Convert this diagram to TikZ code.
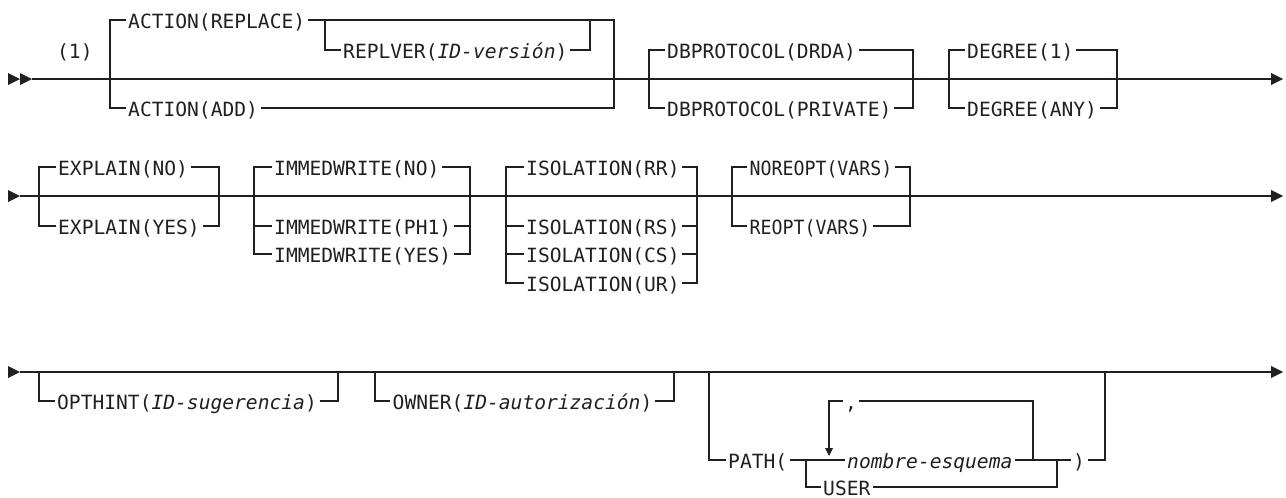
\documentclass[tikz,border=0pt]{standalone}
\usepackage{fontspec}
\usepackage{graphicx}
\newfontfamily\kwfont{DejaVu Sans Mono}
\definecolor{ink}{RGB}{35,31,32}
\tikzset{
  rr/.style={line width=1.2pt, draw=ink},
  kw/.style={anchor=west, inner xsep=2.5pt, inner ysep=0pt, text height=18pt, text depth=2pt,
             font=\kwfont\fontsize{19.6pt}{22pt}\selectfont, text=ink},
  tipfill/.style={fill=ink, draw=none},
}
\begin{document}
\begin{tikzpicture}[x=1pt,y=-1pt]
\useasboundingbox (0,0) rectangle (1286,498);
\fill[white] (0,0) rectangle (1286,498);

% ================= Row 1 =================
\coordinate (r1s) at (32,79);
\coordinate (r1e) at (1271,79);
\draw[rr] (r1s) -- (r1e);
\fill[tipfill] (8,73) -- (20,79) -- (8,85) -- cycle;
\fill[tipfill] (20,73) -- (32,79) -- (20,85) -- cycle;
\fill[tipfill] (1271,73) -- (1283,79) -- (1271,85) -- cycle;

\node[kw] (note1) at (54.5,50) {(1)};

% ACTION group
\coordinate (aL) at (110,79);
\coordinate (aR) at (614,79);
\node[kw] (arep) at (125.5,20) {ACTION(REPLACE)};
\node[kw] (aadd) at (125.5,108) {ACTION(ADD)};
\node[kw] (arv) at (340.5,50) {REPLVER(\textit{ID-versión})};
\draw[rr] (arep.west) -- (arep.west -| aL) -- (aadd.west -| aL) -- (aadd.west);
\draw[rr] (arep.east) -- (arep.east -| aR) -- (aadd.east -| aR) -- (aadd.east);
\coordinate (rvL) at (325,20);
\coordinate (rvR) at (590,20);
\draw[rr] (rvL) |- (arv.west);
\draw[rr] (arv.east) -| (rvR);

% DBPROTOCOL group
\coordinate (dL) at (649,79);
\coordinate (dR) at (913,79);
\node[kw] (dbd) at (664.5,50) {DBPROTOCOL(DRDA)};
\node[kw] (dbp) at (664.5,108) {DBPROTOCOL(PRIVATE)};
\draw[rr] (dbd.west) -- (dbd.west -| dL) -- (dbp.west -| dL) -- (dbp.west);
\draw[rr] (dbd.east) -- (dbd.east -| dR) -- (dbp.east -| dR) -- (dbp.east);

% DEGREE group
\coordinate (gL) at (949,79);
\coordinate (gR) at (1117,79);
\node[kw] (dg1) at (964.5,50) {DEGREE(1)};
\node[kw] (dga) at (964.5,108) {DEGREE(ANY)};
\draw[rr] (dg1.west) -- (dg1.west -| gL) -- (dga.west -| gL) -- (dga.west);
\draw[rr] (dg1.east) -- (dg1.east -| gR) -- (dga.east -| gR) -- (dga.east);

% ================= Row 2 =================
\coordinate (r2s) at (20,196);
\coordinate (r2e) at (1271,196);
\draw[rr] (r2s) -- (r2e);
\fill[tipfill] (8,190) -- (20,196) -- (8,202) -- cycle;
\fill[tipfill] (1271,190) -- (1283,196) -- (1271,202) -- cycle;

% EXPLAIN
\coordinate (eL) at (39,196);
\coordinate (eR) at (219,196);
\node[kw] (exn) at (55.5,167) {EXPLAIN(NO)};
\node[kw] (exy) at (55.5,226) {EXPLAIN(YES)};
\draw[rr] (exn.west) -- (exn.west -| eL) -- (exy.west -| eL) -- (exy.west);
\draw[rr] (exn.east) -- (exn.east -| eR) -- (exy.east -| eR) -- (exy.east);

% IMMEDWRITE
\coordinate (iL) at (254,196);
\coordinate (iR) at (470,196);
\node[kw] (imn) at (271.5,167) {IMMEDWRITE(NO)};
\node[kw] (imp) at (271.5,226) {IMMEDWRITE(PH1)};
\node[kw] (imy) at (271.5,254) {IMMEDWRITE(YES)};
\draw[rr] (imn.west) -- (imn.west -| iL) -- (imy.west -| iL) -- (imy.west);
\draw[rr] (imn.east) -- (imn.east -| iR) -- (imy.east -| iR) -- (imy.east);
\draw[rr] (imp.west -| iL) -- (imp.west);
\draw[rr] (imp.east) -- (imp.east -| iR);

% ISOLATION
\coordinate (sL) at (506,196);
\coordinate (sR) at (697,196);
\node[kw] (isr) at (523.5,167) {ISOLATION(RR)};
\node[kw] (iss) at (523.5,226) {ISOLATION(RS)};
\node[kw] (isc) at (523.5,254) {ISOLATION(CS)};
\node[kw] (isu) at (523.5,283) {ISOLATION(UR)};
\draw[rr] (isr.west) -- (isr.west -| sL) -- (isu.west -| sL) -- (isu.west);
\draw[rr] (isr.east) -- (isr.east -| sR) -- (isu.east -| sR) -- (isu.east);
\draw[rr] (iss.west -| sL) -- (iss.west);
\draw[rr] (iss.east) -- (iss.east -| sR);
\draw[rr] (isc.west -| sL) -- (isc.west);
\draw[rr] (isc.east) -- (isc.east -| sR);

% NOREOPT
\coordinate (nL) at (732,196);
\coordinate (nR) at (910,196);
\node[kw] (nro) at (747,167) {\scalebox{0.93}[1]{NOREOPT(VARS)}};
\node[kw] (ro) at (747,226) {\scalebox{0.93}[1]{REOPT(VARS)}};
\draw[rr] (nro.west) -- (nro.west -| nL) -- (ro.west -| nL) -- (ro.west);
\draw[rr] (nro.east) -- (nro.east -| nR) -- (ro.east -| nR) -- (ro.east);

% ================= Row 3 =================
\coordinate (r3s) at (20,372);
\coordinate (r3e) at (1271,372);
\draw[rr] (r3s) -- (r3e);
\fill[tipfill] (8,366) -- (20,372) -- (8,378) -- cycle;
\fill[tipfill] (1271,366) -- (1283,372) -- (1271,378) -- cycle;

% OPTHINT
\coordinate (oL) at (39,372);
\coordinate (oR) at (338,372);
\node[kw] (opt) at (54.5,401) {OPTHINT(\textit{ID-sugerencia})};
\draw[rr] (oL) |- (opt.west);
\draw[rr] (opt.east) -| (oR);

% OWNER
\coordinate (wL) at (375,372);
\coordinate (wR) at (674,372);
\node[kw] (own) at (390,401) {OWNER(\textit{ID-autorización})};
\draw[rr] (wL) |- (own.west);
\draw[rr] (own.east) -| (wR);

% PATH
\coordinate (pL) at (709,372);
\coordinate (pR) at (1105,372);
\node[kw] (path) at (725.5,460) {PATH(};
\node[kw] (nom) at (844.5,460) {\textit{nombre-esquema}};
\node[kw] (user) at (820.5,487) {USER};
\node[kw] (cp) at (1070.5,460) {)};
\node[kw, inner xsep=2pt] (comma) at (843,401) {,};
\coordinate (bL) at (806,460);
\coordinate (bR) at (1057,460);
\coordinate (lpR) at (1033,460);
\coordinate (lpA) at (829,448);
\draw[rr] (pL) |- (path.west);
\draw[rr] (path.east) -- (nom.west);
\draw[rr] (nom.east) -- (cp.west);
\draw[rr] (cp.east) -| (pR);
\draw[rr] (bL) |- (user.west);
\draw[rr] (user.east) -| (bR);
\draw[rr] (lpR) |- (comma.east);
\draw[rr] (comma.west) -| (lpA);
\fill[tipfill] (825,448) -- (833,448) -- (829,456) -- cycle;
\end{tikzpicture}
\end{document}
